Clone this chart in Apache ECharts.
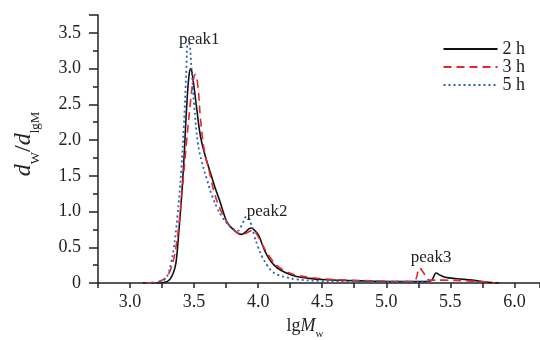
<!DOCTYPE html>
<html><head><meta charset="utf-8">
<script src="https://cdn.jsdelivr.net/npm/echarts@6/dist/echarts.min.js"></script>
<style>html,body{margin:0;padding:0;background:#fff}#c{width:540px;height:340px}</style>
</head><body><div id="c"></div>
<script>
// ---- data ----
const seriesNames = ['2 h', '3 h', '5 h'];
const lgM2h = [3.10,3.20,3.27,3.31,3.34,3.36,3.38,3.40,3.42,3.44,3.46,3.475,3.49,3.52,3.55,3.59,3.63,3.67,3.70,3.73,3.76,3.80,3.84,3.87,3.90,3.93,3.95,3.97,4.00,4.03,4.06,4.10,4.15,4.22,4.30,4.40,4.50,4.70,4.90,5.10,5.30,5.35,5.39,5.42,5.46,5.55,5.67,5.80,5.88];
const dw2h  = [0,0,0.01,0.05,0.15,0.30,0.70,1.15,1.70,2.40,2.90,3.00,2.87,2.45,2.05,1.76,1.53,1.30,1.15,0.98,0.84,0.76,0.70,0.68,0.71,0.76,0.77,0.74,0.68,0.55,0.42,0.30,0.21,0.14,0.09,0.065,0.05,0.035,0.025,0.02,0.02,0.03,0.14,0.11,0.08,0.06,0.04,0.01,0];
const lgM3h = [3.12,3.18,3.24,3.28,3.31,3.34,3.36,3.38,3.40,3.42,3.44,3.47,3.49,3.51,3.53,3.55,3.58,3.62,3.66,3.70,3.74,3.78,3.83,3.88,3.92,3.96,3.99,4.02,4.06,4.10,4.15,4.22,4.30,4.40,4.50,4.70,4.90,5.10,5.20,5.23,5.26,5.30,5.34,5.45,5.60,5.75,5.85];
const dw3h  = [0,0.01,0.03,0.08,0.16,0.33,0.52,0.79,1.15,1.55,1.95,2.50,2.80,2.92,2.75,2.30,1.85,1.55,1.25,1.05,0.90,0.80,0.71,0.68,0.71,0.74,0.68,0.58,0.45,0.34,0.24,0.16,0.11,0.08,0.06,0.04,0.03,0.02,0.02,0.05,0.21,0.12,0.04,0.04,0.03,0.02,0];
const lgM5h = [3.15,3.22,3.27,3.30,3.32,3.34,3.37,3.40,3.42,3.44,3.45,3.46,3.48,3.50,3.53,3.56,3.60,3.64,3.68,3.72,3.76,3.80,3.84,3.87,3.91,3.94,3.97,4.00,4.03,4.07,4.11,4.16,4.22,4.30,4.48,4.70,5.00,5.20,5.30,5.36];
const dw5h  = [0,0.01,0.05,0.14,0.28,0.47,0.93,1.59,2.20,3.00,3.35,3.35,3.00,2.50,1.95,1.70,1.45,1.22,1.05,0.92,0.83,0.76,0.73,0.80,0.93,0.85,0.66,0.50,0.37,0.25,0.16,0.11,0.08,0.05,0.03,0.02,0.02,0.02,0.02,0];
const peakNames = ['peak1', 'peak2', 'peak3'];
const peakLgM   = [3.54, 4.07, 5.35];
const peakDw    = [3.41, 1.00, 0.36];

const pairs = (xs, ys) => xs.map((x, i) => [x, ys[i]]);
const FONT = '"Liberation Serif","DejaVu Serif",serif';
const TXT = '#222';

const chart = echarts.init(document.getElementById('c'), null, {renderer: 'canvas'});
chart.setOption({
  animation: false,
  backgroundColor: '#fff',
  textStyle: {fontFamily: FONT, color: TXT},
  grid: {left: 98, right: 0, top: 15, bottom: 57, containLabel: false, outerBoundsMode: 'none'},
  legend: {
    right: 10, top: 35, orient: 'vertical', itemWidth: 54, itemHeight: 10, itemGap: 0,
    itemStyle: {opacity: 0},
    textStyle: {fontFamily: FONT, fontSize: 18, color: TXT},
    data: seriesNames
  },
  xAxis: {
    type: 'value', min: 2.75, max: 6.2, interval: 0.25,
    name: '{n|lg}{i|M}{s|w}', nameLocation: 'middle', nameGap: 30,
    nameTextStyle: {padding: [0, 28, 0, 0], rich: {
      n: {fontFamily: FONT, fontSize: 18, color: TXT, lineHeight: 22, verticalAlign: 'bottom'},
      i: {fontFamily: FONT, fontSize: 18, fontStyle: 'italic', color: TXT, lineHeight: 22, verticalAlign: 'bottom'},
      s: {fontFamily: FONT, fontSize: 11, color: TXT, lineHeight: 22, verticalAlign: 'bottom', padding: [0, 0, -5, 0]}
    }},
    axisLine: {lineStyle: {color: TXT, width: 1.5}},
    axisTick: {length: 5, lineStyle: {color: TXT, width: 1.5}},
    axisLabel: {fontFamily: FONT, fontSize: 18, color: TXT, margin: 10,
      formatter: v => (Math.abs(v * 2 - Math.round(v * 2)) < 1e-6 && v >= 3 && v <= 6) ? v.toFixed(1) : ''},
    splitLine: {show: false}
  },
  yAxis: [{
    type: 'value', min: 0, max: 3.75, interval: 0.5, position: 'left',
    name: '{i|d}{s|W}{n|/}{i|d}{s|lgM}', nameLocation: 'middle', nameGap: 62,
    nameTextStyle: {padding: [0, 0, 0, 10], rich: {
      n: {fontFamily: FONT, fontSize: 24, color: TXT, lineHeight: 28, verticalAlign: 'bottom'},
      i: {fontFamily: FONT, fontSize: 24, fontStyle: 'italic', color: TXT, lineHeight: 28, verticalAlign: 'bottom'},
      s: {fontFamily: FONT, fontSize: 13, color: TXT, lineHeight: 28, verticalAlign: 'bottom', padding: [0, 0, -6, 0]}
    }},
    axisLine: {show: false},
    axisTick: {length: 9, lineStyle: {color: TXT, width: 1.5}},
    axisLabel: {fontFamily: FONT, fontSize: 18, color: TXT, margin: 17,
      formatter: v => v === 0 ? '0' : (Math.abs(v * 2 - Math.round(v * 2)) < 1e-6 ? v.toFixed(1) : '')},
    splitLine: {show: false}
  }, {
    type: 'value', min: 0, max: 3.75, interval: 0.25, position: 'left', offset: 0,
    axisLine: {show: true, lineStyle: {color: TXT, width: 1.5}},
    axisTick: {length: 5, lineStyle: {color: TXT, width: 1.5}},
    axisLabel: {show: false},
    splitLine: {show: false}
  }],
  series: [{
    name: seriesNames[0], type: 'line', smooth: 0.4, showSymbol: false, symbol: 'none',
    data: pairs(lgM2h, dw2h), color: '#111',
    lineStyle: {color: '#111', width: 1.6, type: 'solid'},
    markPoint: {
      symbol: 'circle', symbolSize: 0, silent: true,
      label: {show: true, position: 'inside', fontFamily: FONT, fontSize: 17, color: TXT, formatter: p => p.name},
      data: peakNames.map((n, i) => ({name: n, coord: [peakLgM[i], peakDw[i]]}))
    }
  }, {
    name: seriesNames[1], type: 'line', smooth: 0.4, showSymbol: false, symbol: 'none',
    data: pairs(lgM3h, dw3h), color: '#e8262d',
    lineStyle: {color: '#e8262d', width: 1.6, type: [8, 5]}
  }, {
    name: seriesNames[2], type: 'line', smooth: 0.4, showSymbol: false, symbol: 'none',
    data: pairs(lgM5h, dw5h), color: '#2b5fb4',
    lineStyle: {color: '#2b5fb4', width: 1.8, type: [2, 3]}
  }]
});
</script></body></html>
